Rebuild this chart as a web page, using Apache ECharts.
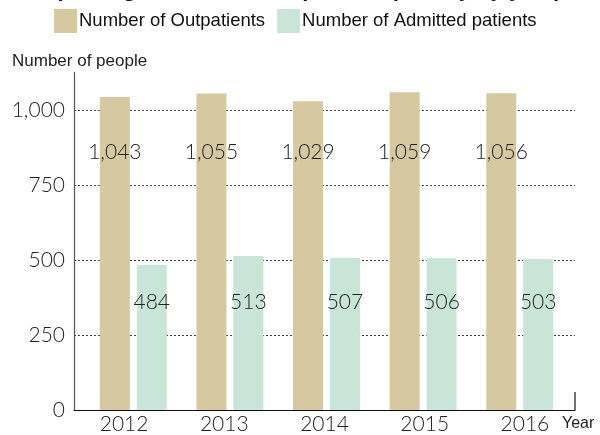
<!DOCTYPE html>
<html>
<head>
<meta charset="utf-8">
<script src="https://cdn.jsdelivr.net/npm/echarts@6/dist/echarts.min.js"></script>
<style>
  html, body { margin: 0; padding: 0; background: #fff; }
  #chart { width: 600px; height: 435px; }
</style>
</head>
<body>
<div id="chart"></div>
<script>
// data
const years = ['2012', '2013', '2014', '2015', '2016']
const outpatients = [1043, 1055, 1029, 1059, 1056]
const admitted = [484, 513, 507, 506, 503]
const seriesNames = ['Number of Outpatients', 'Number of Admitted patients']
const yMin = 0
const yMax = 1125
const yStep = 250

const numFont = 'Lato'
const textFont = 'Liberation Sans'
const comma = v => Number(v).toLocaleString('en-US')

const chart = echarts.init(document.getElementById('chart'))

const option = {
  animation: false,
  title: [
    {
      // mostly cut off at the top edge, as in the source
      text: '(Average number of outpatients per day by year)',
      left: 50,
      top: -26,
      textStyle: { fontFamily: textFont, fontSize: 22, fontWeight: 'bold', color: '#111' }
    },
    {
      text: 'Number of people',
      left: 12,
      top: 53,
      padding: 0,
      textStyle: { fontFamily: textFont, fontSize: 17, fontWeight: 'normal', color: '#222' }
    },
    {
      text: 'Year',
      left: 562,
      top: 416,
      padding: 0,
      textStyle: { fontFamily: textFont, fontSize: 16, fontWeight: 'normal', color: '#222' }
    }
  ],
  legend: {
    data: seriesNames,
    left: 54,
    top: 9,
    padding: 0,
    icon: 'rect',
    itemWidth: 23,
    itemHeight: 24,
    itemGap: 12,
    textStyle: { fontFamily: textFont, fontSize: 18.5, color: '#111', padding: [0, 0, 0, -3] }
  },
  grid: [
    // axes grid
    { left: 74, right: 25, top: 72.5, bottom: 25 },
    // bars grid (bars sit a bit right of the label slots)
    { left: 85, right: 32, top: 72.5, bottom: 25 }
  ],
  xAxis: [
    {
      gridIndex: 0,
      type: 'category',
      data: years,
      axisLine: { lineStyle: { color: '#111', width: 1.2 } },
      axisTick: { show: false },
      axisLabel: { fontFamily: numFont, fontWeight: 300, fontSize: 21, color: '#222', margin: 4 }
    },
    { gridIndex: 1, type: 'category', data: years, show: false }
  ],
  yAxis: [
    {
      gridIndex: 0,
      type: 'value',
      min: yMin,
      max: yMax,
      interval: yStep,
      axisLine: { show: true, lineStyle: { color: '#555', width: 1.2 } },
      axisTick: { show: false },
      axisLabel: {
        showMaxLabel: false,
        formatter: comma,
        fontFamily: numFont,
        fontWeight: 300,
        fontSize: 21,
        color: '#222',
        margin: 9
      },
      splitLine: {
        show: true,
        showMinLine: false,
        showMaxLine: false,
        lineStyle: { type: [2, 2], color: '#444', width: 1 }
      }
    },
    { gridIndex: 1, type: 'value', min: yMin, max: yMax, show: false }
  ],
  series: [
    {
      name: seriesNames[0],
      type: 'bar',
      xAxisIndex: 1,
      yAxisIndex: 1,
      data: outpatients,
      barWidth: 30,
      barGap: '23%',
      itemStyle: { color: '#d6c9a2' },
      label: {
        show: true,
        position: 'insideBottom',
        distance: 247,
        formatter: p => comma(p.value),
        fontFamily: numFont,
        fontWeight: 300,
        fontSize: 21,
        color: '#222'
      }
    },
    {
      name: seriesNames[1],
      type: 'bar',
      xAxisIndex: 1,
      yAxisIndex: 1,
      data: admitted,
      barWidth: 30,
      itemStyle: { color: '#c9e4d9' },
      label: {
        show: true,
        position: 'insideBottom',
        distance: 97,
        formatter: p => comma(p.value),
        fontFamily: numFont,
        fontWeight: 300,
        fontSize: 21,
        color: '#222'
      }
    }
  ],
  graphic: [
    // small end mark on the x axis
    { type: 'line', shape: { x1: 575, y1: 392, x2: 575, y2: 410 }, style: { stroke: '#111', lineWidth: 1.2 } }
  ]
}

chart.setOption(option)
</script>
</body>
</html>
